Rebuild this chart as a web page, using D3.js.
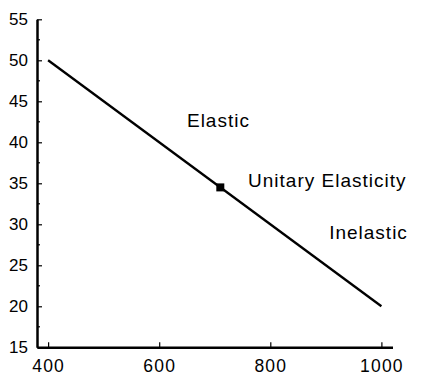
<!DOCTYPE html>
<html>
<head>
<meta charset="utf-8">
<script src="https://cdn.jsdelivr.net/npm/d3@7"></script>
<style>
  body { margin: 0; background: #fff; }
  text { font-family: "Liberation Sans", Arial, sans-serif; }
</style>
</head>
<body>
<div id="chart"></div>
<script>
const width = 425, height = 384;

// demand line endpoints and the unit-elastic point
const quantity = [400, 1000];
const price = [50, 20];
const unitPoint = [710, 34.5];

const xTicks = [400, 600, 800, 1000];
const yTicks = [15, 20, 25, 30, 35, 40, 45, 50, 55];
const yMinor = [17.5, 22.5, 27.5, 32.5, 37.5, 42.5, 47.5, 52.5];

const labels = ['Elastic', 'Unitary Elasticity', 'Inelastic'];
const labelX = [650, 760, 906];
const labelY = [41.83, 34.51, 28.17];

const x = d3.scaleLinear().domain([380, 1020]).range([37, 392.5]);
const y = d3.scaleLinear().domain([15, 55]).range([347.3, 19.3]);

const svg = d3.select('#chart')
  .append('svg')
  .attr('width', width)
  .attr('height', height);

// x axis, ticks pointing inward
const gx = svg.append('g')
  .attr('transform', `translate(0,${y(15)})`)
  .call(d3.axisBottom(x).tickValues(xTicks).tickFormat(d3.format('d'))
    .tickSize(-5).tickSizeOuter(0).tickPadding(12));
gx.select('.domain').attr('stroke-width', 2.5);
gx.selectAll('.tick line').attr('stroke-width', 1.2);
gx.selectAll('.tick text')
  .attr('font-size', 17.5)
  .attr('fill', '#000')
  .style('letter-spacing', '1.2px')
  .style('font-family', '"Liberation Sans", Arial, sans-serif');

// y axis
const gy = svg.append('g')
  .attr('transform', `translate(${x(380)},0)`)
  .call(d3.axisLeft(y).tickValues(yTicks).tickSize(-5).tickSizeOuter(0).tickPadding(9));
gy.select('.domain').attr('stroke-width', 2.5);
gy.selectAll('.tick line').attr('stroke-width', 1.2);
gy.selectAll('.tick text')
  .attr('font-size', 17)
  .attr('fill', '#000')
  .style('font-family', '"Liberation Sans", Arial, sans-serif');

gy.selectAll('line.minor')
  .data(yMinor)
  .enter()
  .append('line')
  .classed('minor', true)
  .attr('x1', 0).attr('x2', 3)
  .attr('y1', d => y(d)).attr('y2', d => y(d))
  .attr('stroke', '#000').attr('stroke-width', 1.2);

// demand line
svg.append('line')
  .attr('x1', x(quantity[0])).attr('y1', y(price[0]))
  .attr('x2', x(quantity[1])).attr('y2', y(price[1]))
  .attr('stroke', '#000')
  .attr('stroke-width', 2.3);

svg.append('rect')
  .attr('x', x(unitPoint[0]) - 4)
  .attr('y', y(unitPoint[1]) - 4)
  .attr('width', 8)
  .attr('height', 8)
  .attr('fill', '#000');

labels.forEach(function(t, i) {
  svg.append('text')
    .text(t)
    .attr('x', x(labelX[i]))
    .attr('y', y(labelY[i]))
    .attr('font-size', 19)
    .style('letter-spacing', '1px')
    .attr('fill', '#000');
});
</script>
</body>
</html>
